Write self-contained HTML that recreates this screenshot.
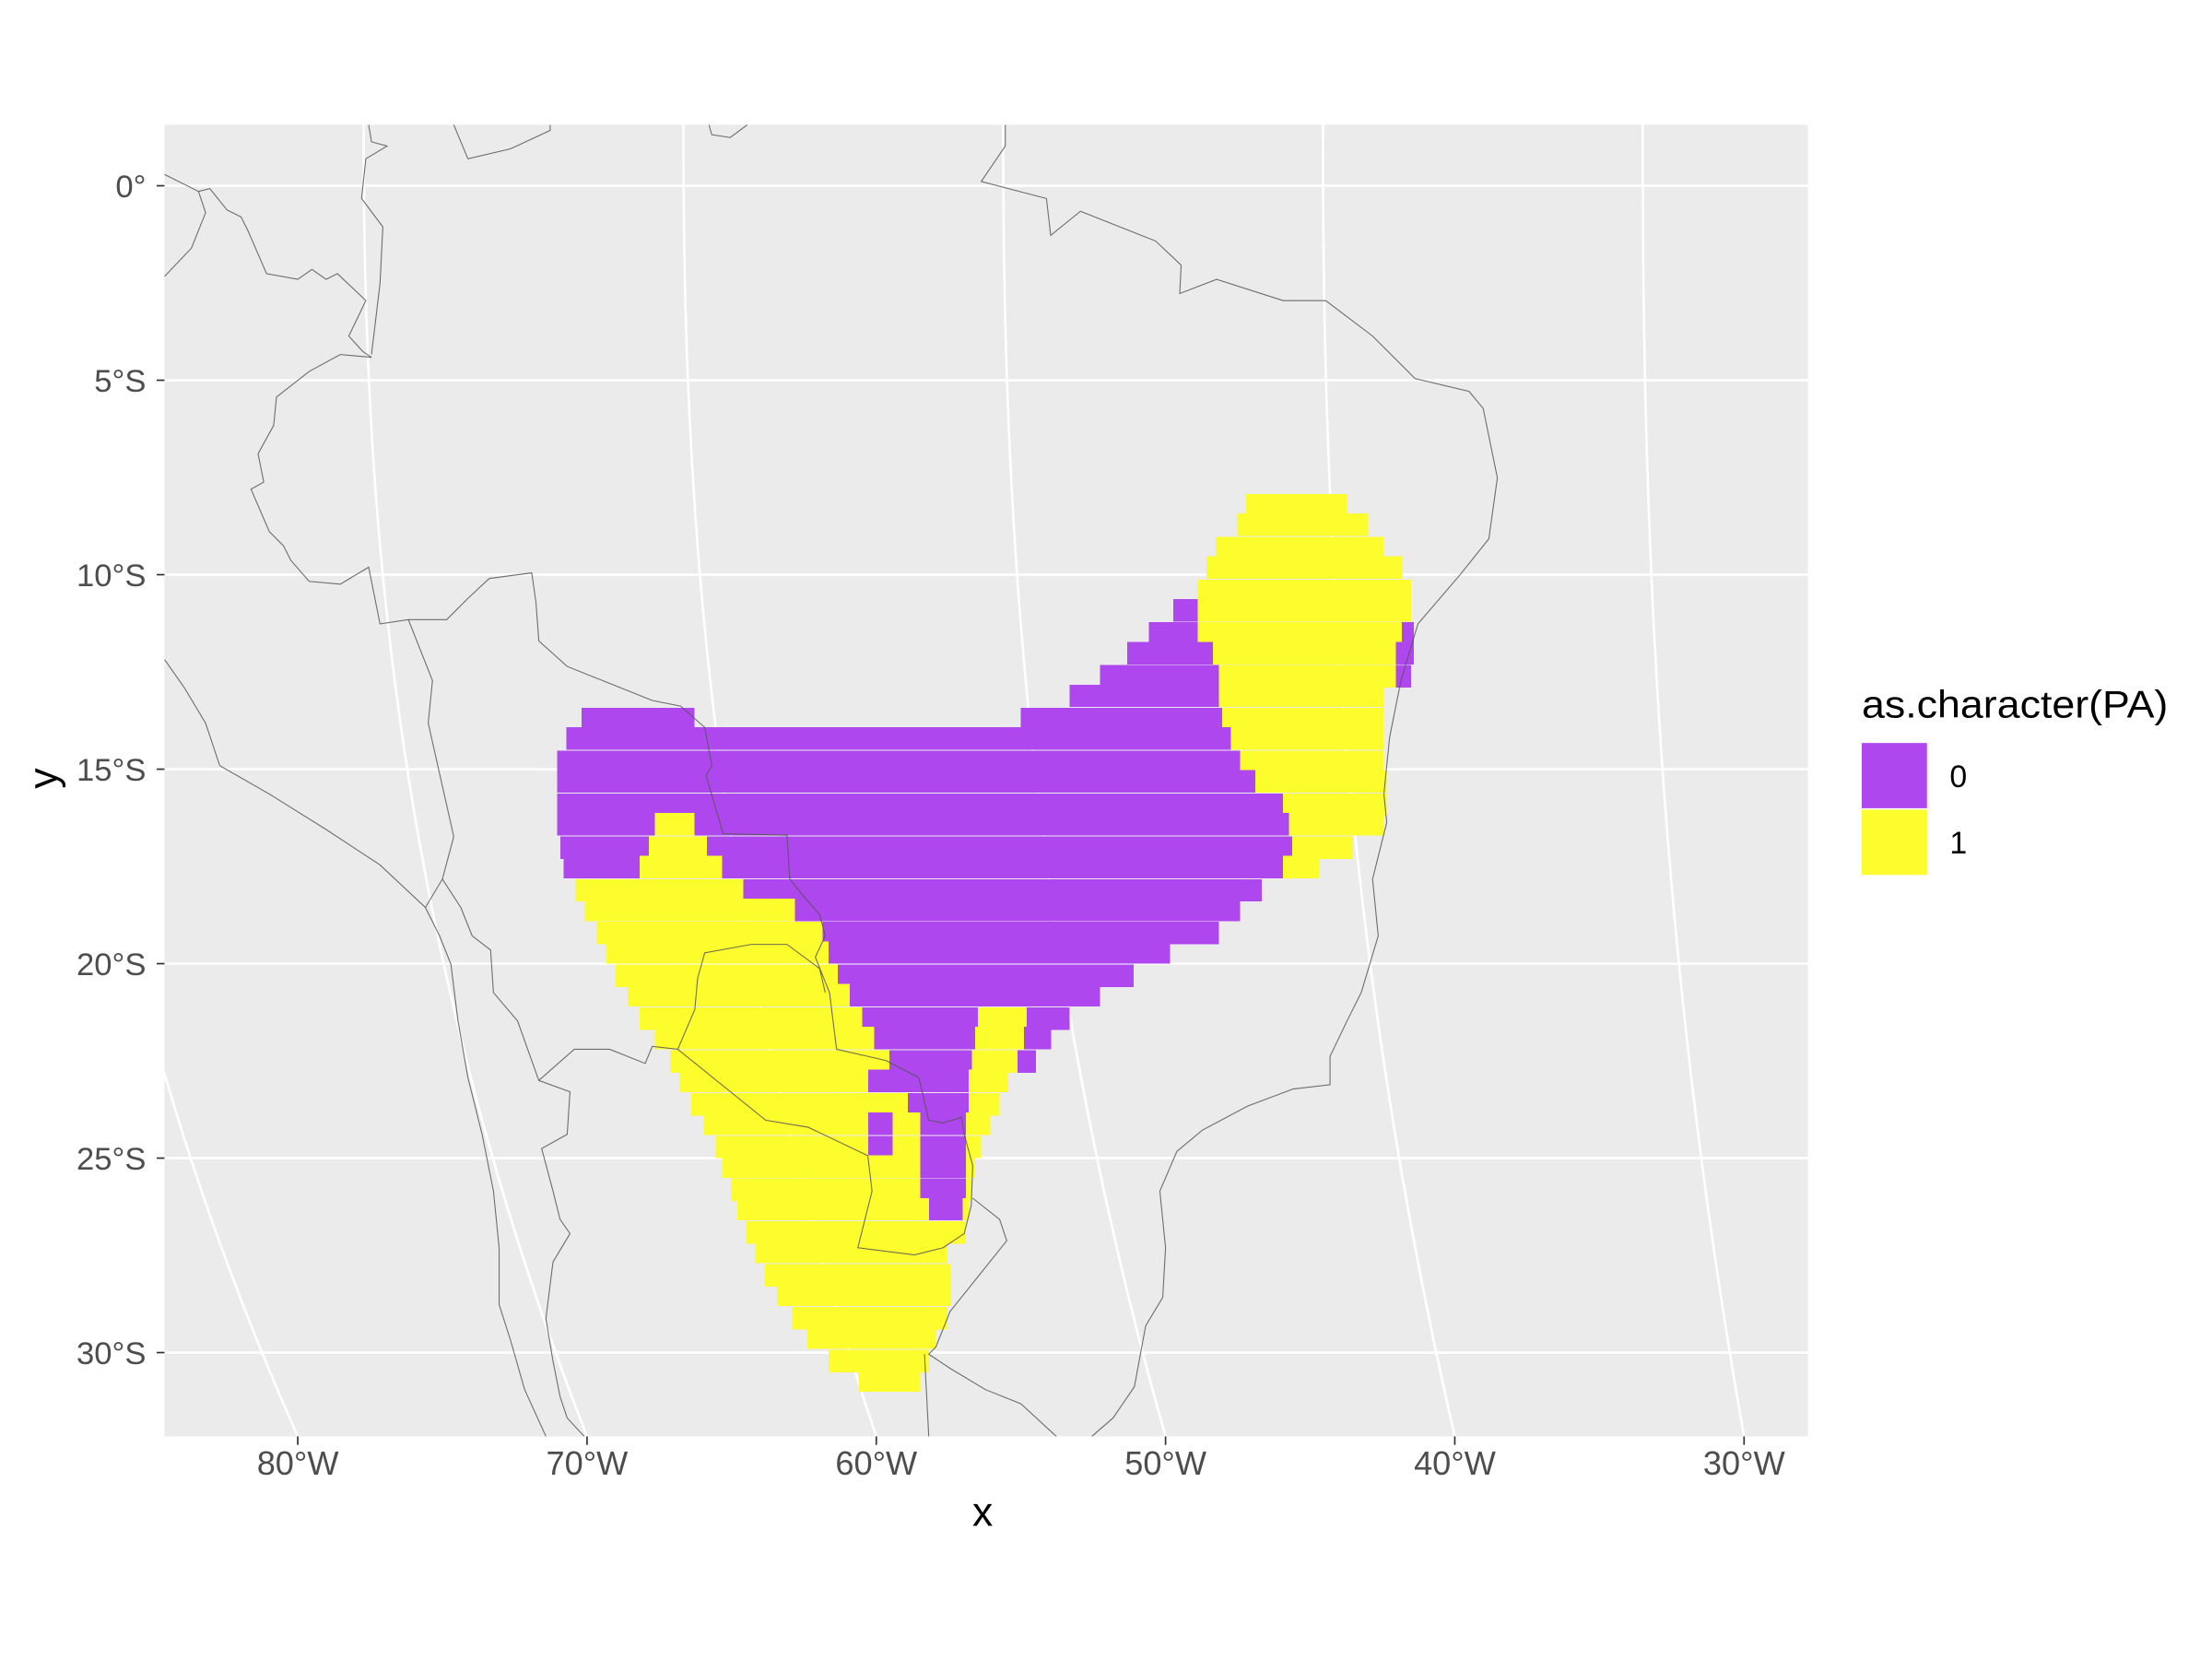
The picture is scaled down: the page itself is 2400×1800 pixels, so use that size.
<!DOCTYPE html>
<html><head><meta charset="utf-8"><style>html,body{margin:0;padding:0;background:#fff}svg{display:block}</style></head>
<body>
<svg id="chart" width="2400" height="1800" viewBox="0 0 1560 1170" xmlns="http://www.w3.org/2000/svg" font-family="Liberation Sans, sans-serif">
<defs><clipPath id="pc"><rect x="116" y="88" width="1159" height="925"/></clipPath></defs>
<rect x="116" y="88" width="1159" height="925" fill="#ebebeb"/>
<g id="grid" clip-path="url(#pc)" stroke="#fff" stroke-width="1.7" fill="none"></g>
<g id="raster" clip-path="url(#pc)" shape-rendering="crispEdges"></g>
<g clip-path="url(#pc)" fill="none" stroke="#555" stroke-width="0.7" stroke-opacity="0.85">
<path d="M709,88 L709,103 L692,128 L738,140 L741,166 L762,149 L815,170 L833,187 L832,207 L858,197 L905,212 L935,212 L968,237 L998,267 L1036,276 L1046,288 L1056,337 L1050,380 L1030,405 L1000,440 L988,480 L980,520 L976,560 L978,580 L968,620 L972,660 L960,700 L950,720 L938,745 L938,765 L912,768 L880,780 L848,797 L830,812 L818,840 L822,880 L820,915 L808,935 L800,978 L785,1000 L770,1013"/>
<path d="M260,88 L262,100 L273,103 L258,112 L255,140 L270,160 L268,200 L262,250"/>
<path d="M320,88 L325,100 L330,112 L360,105 L388,92 L388,88"/>
<path d="M500,88 L502,95 L515,97 L527,88"/>
<path d="M116,123 L140,135 L148,133 L160,148 L170,153 L175,163 L188,193 L210,197 L220,190 L230,197 L238,193 L258,212 L246,237 L256,248 L262,252"/>
<path d="M116,195 L135,175 L145,150 L140,135"/>
<path d="M262,252 L240,250 L218,262 L195,280 L193,300 L182,320 L186,340 L177,345 L190,375 L200,385 L205,395 L218,410 L240,412 L260,400 L268,440 L288,437 L315,437 L330,422 L345,408 L375,404 L378,425 L380,452 L400,470 L430,482 L460,494 L480,498 L497,513 L502,540 L498,547 L510,588 L555,589 L557,620 L565,630 L578,645 L582,660 L575,675 L585,700 L590,740 L612,745 L625,748 L648,760 L655,790 L665,792 L678,788"/>
<path d="M116,465 L130,485 L145,510 L155,540 L190,560 L230,585 L268,610 L300,640 L310,660 L318,680 L323,720 L330,760 L340,800 L348,840 L352,880 L352,920 L360,945 L370,980 L385,1013"/>
<path d="M288,437 L305,480 L302,510 L320,590 L312,620 L300,640"/>
<path d="M312,620 L325,640 L333,660 L346,670 L348,700 L365,720 L380,762 L402,770 L400,800 L382,810 L390,840 L395,860 L402,870 L390,890 L385,930 L390,960 L395,985 L400,1000 L412,1013"/>
<path d="M380,762 L405,740 L430,740 L455,750 L460,738 L478,740 L490,712 L492,690 L497,672 L530,666 L555,666 L578,683 L582,700"/>
<path d="M478,740 L540,790 L570,795 L612,815 L615,840 L605,880 L645,885 L665,880 L680,870 L685,850 L686,822 L680,800 L678,788"/>
<path d="M686,845 L705,860 L710,875 L690,900 L670,925 L660,950 L655,955 L670,965 L695,980 L720,990 L745,1013"/>
<path d="M652,955 L655,1013"/>
</g>
<g id="axes"></g>
<text x="693" y="1076" font-size="29" text-anchor="middle" fill="#000">x</text>
<text x="40" y="549" font-size="29" text-anchor="middle" fill="#000" transform="rotate(-90 40 549)">y</text>
<g>
<text x="1313" y="506" font-size="27" textLength="216" lengthAdjust="spacingAndGlyphs" fill="#000">as.character(PA)</text>
<rect x="1313" y="524" width="46" height="46" fill="#af47ee"/>
<rect x="1313" y="571" width="46" height="46" fill="#fdfc2d"/>
<text x="1375" y="555" font-size="22" fill="#000">0</text>
<text x="1375" y="602" font-size="22" fill="#000">1</text>
</g>
</svg>
<script>
// data (latitude in degrees S, longitude in degrees E, negative = W)
const latTicks = [0, 5, 10, 15, 20, 25, 30];
const latTickLabels = ["0°", "5°S", "10°S", "15°S", "20°S", "25°S", "30°S"];
const lonTicks = [-80, -70, -60, -50, -40, -30];
const lonTickLabels = ["80°W", "70°W", "60°W", "50°W", "40°W", "30°W"];
const rowLat = [8.2,8.7,9.3,9.8,10.4,10.9,11.5,12.0,12.6,13.1,13.7,14.2,14.8,15.3,15.9,16.4,17.0,17.5,18.1,18.6,19.2,19.7,20.3,20.8,21.4,21.9,22.5,23.0,23.6,24.1,24.7,25.2,25.8,26.3,26.9,27.4,28.0,28.5,29.1,29.6,30.2,30.7];
const rowRuns = [
 [[-44.7,-41.4,1]],
 [[-45.0,-40.7,1]],
 [[-45.7,-40.2,1]],
 [[-46.0,-39.6,1]],
 [[-46.3,-39.3,1]],
 [[-47.1,-46.3,0],[-46.3,-39.3,1]],
 [[-47.9,-46.3,0],[-46.3,-39.6,1],[-39.6,-39.2,0]],
 [[-48.6,-45.8,0],[-45.8,-39.8,1],[-39.8,-39.2,0]],
 [[-49.5,-45.6,0],[-45.6,-39.8,1],[-39.8,-39.3,0]],
 [[-50.5,-45.6,0],[-45.6,-40.2,1]],
 [[-66.5,-62.8,0],[-52.1,-45.5,0],[-45.5,-40.2,1]],
 [[-67.0,-45.2,0],[-45.2,-40.2,1]],
 [[-67.3,-44.9,0],[-44.9,-40.2,1]],
 [[-67.3,-44.4,0],[-44.4,-40.1,1]],
 [[-67.3,-43.5,0],[-43.5,-40.1,1]],
 [[-67.3,-64.1,0],[-64.1,-62.8,1],[-62.8,-43.3,0],[-43.3,-40.2,1]],
 [[-67.2,-64.3,0],[-64.3,-62.4,1],[-62.4,-43.2,0],[-43.2,-41.2,1]],
 [[-67.1,-64.6,0],[-64.6,-61.9,1],[-61.9,-43.5,0],[-43.5,-42.3,1]],
 [[-66.7,-61.2,1],[-61.2,-44.2,0]],
 [[-66.4,-59.5,1],[-59.5,-44.9,0]],
 [[-66.0,-58.6,1],[-58.6,-45.6,0]],
 [[-65.7,-58.4,1],[-58.4,-47.2,0]],
 [[-65.4,-58.1,1],[-58.1,-48.4,0]],
 [[-65.0,-57.7,1],[-57.7,-49.5,0]],
 [[-64.6,-57.3,1],[-57.3,-53.5,0],[-53.5,-51.9,1],[-51.9,-50.5,0]],
 [[-64.1,-56.9,1],[-56.9,-53.6,0],[-53.6,-52.0,1],[-52.0,-51.1,0]],
 [[-63.6,-56.4,1],[-56.4,-53.7,0],[-53.7,-52.2,1],[-52.2,-51.6,0]],
 [[-63.3,-57.1,1],[-57.1,-53.8,0],[-53.8,-52.5,1]],
 [[-62.9,-55.8,1],[-55.8,-53.8,0],[-53.8,-52.8,1]],
 [[-62.5,-57.1,1],[-57.1,-56.3,0],[-56.3,-55.4,1],[-55.4,-53.9,0],[-53.9,-53.1,1]],
 [[-62.1,-57.1,1],[-57.1,-56.3,0],[-56.3,-55.4,1],[-55.4,-53.9,0],[-53.9,-53.4,1]],
 [[-61.9,-55.4,1],[-55.4,-53.9,0],[-53.9,-53.6,1]],
 [[-61.6,-55.4,1],[-55.4,-53.9,0],[-53.9,-53.7,1]],
 [[-61.4,-55.1,1],[-55.1,-54.0,0],[-54.0,-53.8,1]],
 [[-61.1,-53.9,1]],
 [[-60.8,-54.5,1]],
 [[-60.5,-54.4,1]],
 [[-60.1,-54.4,1]],
 [[-59.6,-54.5,1]],
 [[-59.1,-54.9,1]],
 [[-58.4,-55.1,1]],
 [[-57.4,-55.4,1]]
];
const classColors = ["#af47ee", "#fdfc2d"];
const rowHeightDeg = 0.55;

// scales
const yScale = lat => 131 + lat * 27.43;
const xScaleMid = lon => 550 + (lon + 60) * 21.5;
const meridianTop = lon => 482 + (lon + 60) * 22.55;
const meridianBottom = lon => 618 + (lon + 60) * 20.4;
const NS = "http://www.w3.org/2000/svg";
function mk(tag, attrs, parent) {
  const e = document.createElementNS(NS, tag);
  for (const k in attrs) e.setAttribute(k, attrs[k]);
  parent.appendChild(e);
  return e;
}
const grid = document.getElementById('grid');
const axes = document.getElementById('axes');
const raster = document.getElementById('raster');

latTicks.forEach((t, i) => {
  const y = yScale(t);
  const l = mk('line', {x1: 116, x2: 1275, y1: y, y2: y}, grid);
  
  
  const tk = mk('line', {x1: 110.5, x2: 116, y1: y, y2: y, stroke: '#333', 'stroke-width': 1.1}, axes);
  
  
  const tx = mk('text', {x: 103, y: y + 8, 'font-size': 22.5, 'text-anchor': 'end', fill: '#4d4d4d'}, axes);
  tx.textContent = latTickLabels[i];
  
  
});
lonTicks.forEach((t, i) => {
  const xb = meridianBottom(t), xt = meridianTop(t);
  let d = '';
  for (let s = 0; s <= 40; s++) {
    const tt = s / 40;
    const x = xt + (xb - xt) * Math.pow(tt, 2.3);
    const y = 88 + tt * 925;
    d += (s ? 'L' : 'M') + x.toFixed(2) + ',' + y.toFixed(2);
  }
  const l = mk('path', {d: d}, grid);
  
  
  const tk = mk('line', {x1: xb, x2: xb, y1: 1013, y2: 1019, stroke: '#333', 'stroke-width': 1.1}, axes);
  
  
  const tx = mk('text', {x: xb, y: 1040, 'font-size': 23.5, 'text-anchor': 'middle', fill: '#4d4d4d'}, axes);
  tx.textContent = lonTickLabels[i];
  
  
});
rowLat.forEach((lat, r) => {
  const y0 = yScale(lat - rowHeightDeg / 2), y1 = yScale(lat + rowHeightDeg / 2);
  rowRuns[r].forEach(run => {
    const x0 = xScaleMid(run[0]), x1 = xScaleMid(run[1]);
    const c = mk('rect', {x: x0, y: y0, width: Math.max(0, x1 - x0), height: y1 - y0 + 0.8, fill: classColors[run[2]]}, raster);
    
    
  });
});
</script>
</body></html>
